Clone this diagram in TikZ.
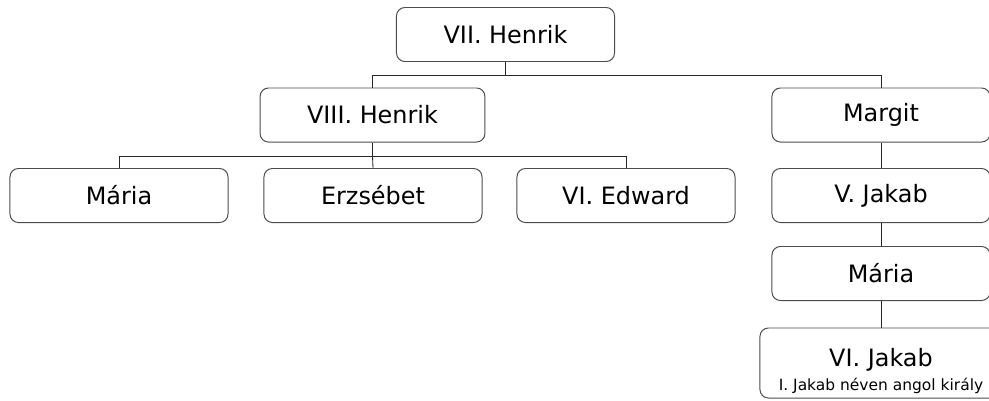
\documentclass[tikz,border=0pt]{standalone}
\usepackage{fontspec}
\setmainfont{DejaVu Sans}
\usetikzlibrary{positioning}

\begin{document}
\begin{tikzpicture}[x=0.025cm, y=-0.025cm, person/.style={draw=black!70,line width=0.7pt,rounded corners=6pt,align=center,minimum width=5.45cm,minimum height=1.35cm,inner sep=2pt,font=\fontsize{17}{20}\selectfont}, link/.style={line width=0.6pt,black!85}]
\useasboundingbox (0,0) rectangle (989,401);
\node[person] (h7) at (505.5,34.5) {VII. Henrik};
\node[person, minimum width=5.62cm] (h8) at (372.5,115) {VIII. Henrik};
\node[person] (margit) at (881,115) {Margit};
\node[person] (maria) at (119,195.5) {Mária};
\node[person] (erzsebet) at (373,195.5) {Erzsébet};
\node[person] (edward) at (626,195.5) {VI. Edward};
\node[person] (jakab5) at (881,195.5) {V. Jakab};
\node[person] (maria2) at (881,273.5) {Mária};
\node[person, minimum width=6.05cm, minimum height=1.75cm] (jakab6) at (881,363) {\rule{0pt}{24pt}VI. Jakab\\[-3pt]{\fontsize{11}{13}\selectfont I. Jakab néven angol király}};
\coordinate (bus1) at (505.5,75);
\coordinate (bus2) at (372.5,156);
\draw[link] (h7.south) -- (bus1);
\draw[link] (bus1) -| (h8.north);
\draw[link] (bus1) -| (margit.north);
\draw[link] (h8.south) -- (bus2);
\draw[link] (bus2) -| (maria.north);
\draw[link] (bus2) -- (erzsebet.north);
\draw[link] (bus2) -| (edward.north);
\draw[link] (margit) -- (jakab5);
\draw[link] (jakab5) -- (maria2);
\draw[link] (maria2) -- (jakab6);
\end{tikzpicture}
\end{document}
